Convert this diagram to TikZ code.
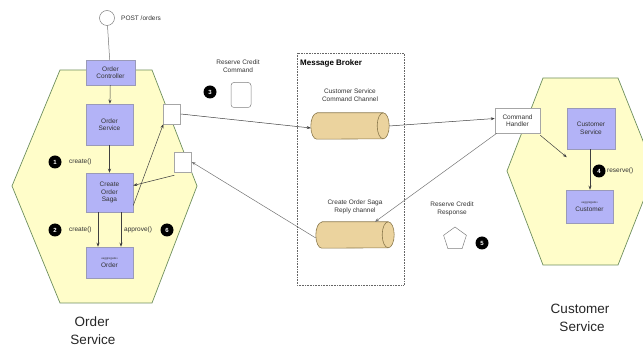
\documentclass[tikz,border=0pt]{standalone}
\usepackage{fontspec}
\setmainfont{Liberation Sans}
\usetikzlibrary{shapes.geometric,arrows.meta}
\definecolor{hexfill}{HTML}{FFFDC9}
\definecolor{hexline}{HTML}{6E8F5E}
\definecolor{boxfill}{HTML}{B3B3F7}
\definecolor{boxline}{HTML}{9A9AB8}
\definecolor{cylfill}{HTML}{EBD39E}
\definecolor{cylline}{HTML}{8C7A4E}
\definecolor{txtgray}{HTML}{333333}
\tikzset{
  hexa/.style={fill=hexfill,draw=hexline,line width=0.7pt},
  svcbox/.style={rectangle,fill=boxfill,draw=boxline,line width=0.5pt,align=center,font=\fontsize{6.5}{7.5}\selectfont,text=txtgray,inner sep=0pt},
  whitebox/.style={rectangle,fill=white,draw=gray!70,line width=0.5pt,inner sep=0pt},
  badge/.style={circle,fill=black,text=white,font=\fontsize{6}{6}\selectfont\bfseries,minimum size=13pt,inner sep=0pt},
  lbl/.style={font=\fontsize{6.5}{7.5}\selectfont,text=txtgray,inner sep=0pt},
  biglbl/.style={font=\fontsize{13.5}{15}\selectfont,text=black!85,inner sep=0pt},
  conn/.style={draw=black!75,line width=0.5pt,-{Stealth[length=4pt,width=3pt]}},
  plainconn/.style={draw=black!55,line width=0.5pt},
  cyl/.style={rectangle,minimum width=78pt,minimum height=26pt,inner sep=0pt}
}
\begin{document}
\begin{tikzpicture}[x=1pt,y=-1pt]
\useasboundingbox (0,0) rectangle (643,347);
\begin{scope}
\clip (0,0) rectangle (643,347);
% hexagons
\draw[hexa] (60,70) -- (152,70) -- (197,186) -- (152,303) -- (60,303) -- (12,186) -- cycle;
\draw[hexa] (543,78) -- (618,78) -- (655,171) -- (618,265) -- (543,265) -- (507,171) -- cycle;
\end{scope}
% message broker
\draw[black!60,densely dotted,line width=0.6pt] (297,53) rectangle (404,285);
\node[anchor=west,font=\fontsize{8}{9}\selectfont\bfseries,inner sep=0pt] (mb) at (300,63) {Message Broker};
% entry circle
\node[circle,draw=black!50,fill=white,minimum size=15pt,inner sep=0pt,line width=0.5pt] (post) at (107,18) {};
\node[lbl,anchor=west] (postl) at (121,18) {POST /orders};
% order service boxes
\node[svcbox,minimum width=49pt,minimum height=25pt] (oc) at (110.5,72.5) {Order\\Controller};
\node[svcbox,minimum width=47pt,minimum height=41pt] (os) at (109.5,124.5) {Order\\Service};
\node[svcbox,minimum width=47pt,minimum height=39pt] (saga) at (109.5,192.5) {Create\\Order\\Saga};
\node[svcbox,minimum width=47pt,minimum height=31pt] (ord) at (109.5,262.5) {{\fontsize{3}{4}\selectfont <<aggregate>>}\\Order};
% small ports
\node[whitebox,minimum width=17pt,minimum height=20pt] (sq1) at (172,114) {};
\node[whitebox,minimum width=17pt,minimum height=20pt] (sq2) at (183,162) {};
% connectors in order service
\draw[plainconn] (post) -- (oc);
\draw[conn] (oc) -- (os);
\draw[conn] (os) -- (saga);
\draw[conn] ([xshift=-11.5pt]saga.south) -- ([xshift=-11.5pt]ord.north);
\draw[conn] ([xshift=11.5pt]saga.south) -- ([xshift=11.5pt]ord.north);
\draw[conn] ([yshift=-13pt]saga.east) -- (sq1.south west);
\draw[conn] ([yshift=-3pt]sq2.south west) -- ([yshift=7pt]saga.east);
% badges & labels
\node[badge] (b1) at (55,162) {1};
\node[lbl,anchor=west] (l1) at (69,162) {create()};
\node[badge] (b2) at (55,230) {2};
\node[lbl,anchor=west] (l2) at (69,230) {create()};
\node[lbl,anchor=west] (l6) at (124,230) {approve()};
\node[badge] (b6) at (167,230) {6};
% reserve credit command
\node[lbl,align=center] (rcc) at (238,66) {Reserve Credit\\Command};
\node[badge] (b3) at (210,92) {3};
\node[rectangle,rounded corners=3pt,draw=black!50,fill=white,minimum width=20pt,minimum height=25pt,line width=0.5pt] (msg1) at (241,95) {};
% cylinders
\node[lbl,align=center] (c1l) at (350,95) {Customer Service\\Command Channel};
\node[cyl] (cyl1) at (350,126) {};
\node[lbl,align=center] (c2l) at (355,207) {Create Order Saga\\Reply channel};
\node[cyl] (cyl2) at (355,235) {};
\foreach \c in {cyl1,cyl2}{
  \draw[fill=cylfill,draw=cylline,line width=0.6pt]
    ([xshift=6pt]\c.north west) -- ([xshift=-6pt]\c.north east)
    arc[start angle=90,end angle=-90,x radius=6pt,y radius=13pt]
    -- ([xshift=6pt]\c.south west)
    arc[start angle=270,end angle=90,x radius=6pt,y radius=13pt] -- cycle;
  \draw[draw=cylline,line width=0.6pt] ([xshift=-6pt]\c.north east)
    arc[start angle=90,end angle=270,x radius=6pt,y radius=13pt];
}
% command handler, customer service
\node[whitebox,minimum width=45pt,minimum height=25pt,align=center,font=\fontsize{6.5}{7.5}\selectfont,text=txtgray] (ch) at (517.5,120.5) {Command\\Handler};
\node[svcbox,minimum width=48pt,minimum height=41pt] (cs) at (591,128.5) {Customer\\Service};
\node[svcbox,minimum width=47pt,minimum height=33pt] (cust) at (589.5,206.5) {{\fontsize{3}{4}\selectfont <<aggregate>>}\\Customer};
\node[badge] (b4) at (599,171) {4};
\node[lbl,anchor=west] (l4) at (607,171) {reserve()};
% connectors across
\draw[conn] (sq1.east) -- ([yshift=-2pt]cyl1.west);
\draw[conn] (cyl1.east) -- ([yshift=2pt]ch.west);
\draw[conn] ([yshift=-2pt]ch.south east) -- ([yshift=-8pt]cs.south west);
\draw[conn] (cs.south -| 590,0) -- (cust.north -| 590,0);
\draw[plainconn,-{Stealth[length=4pt,width=3pt]}] ([xshift=2pt]ch.south west) -- ([xshift=20pt]cyl2.north);
\draw[plainconn,-{Stealth[length=4pt,width=3pt]}] ([yshift=-3pt]cyl2.west) -- (sq2.east);
% reserve credit response
\node[lbl,align=center] (rcr) at (452,209) {Reserve Credit\\Response};
\node[regular polygon,regular polygon sides=5,draw=black!50,fill=white,minimum size=24pt,inner sep=0pt,line width=0.5pt] (msg2) at (455,239) {};
\node[badge] (b5) at (482,243) {5};
% big labels
\node[biglbl] (osl1) at (92,322) {Order};
\node[biglbl] (osl2) at (93,340) {Service};
\node[biglbl] (csl1) at (580,309) {Customer};
\node[biglbl] (csl2) at (582,327) {Service};
\end{tikzpicture}
\end{document}
